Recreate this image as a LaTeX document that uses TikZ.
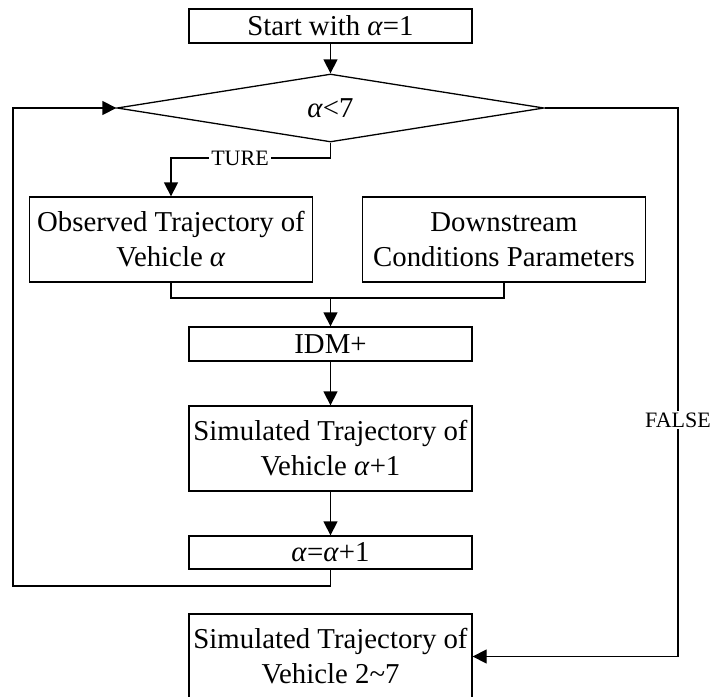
\documentclass[tikz,border=0pt]{standalone}
\usepackage{fontspec}
\setmainfont{Liberation Serif}
\usetikzlibrary{shapes.geometric,arrows.meta}
\tikzset{
  x=0.5pt, y=-0.5pt,
  box/.style={draw, line width=0.65pt, minimum width=141.5pt, inner sep=0pt, align=center,
    font=\fontsize{14.4}{17.5}\selectfont},
  decbox/.style={draw, diamond, line width=0.65pt, minimum width=213.5pt, minimum height=34pt,
    inner sep=0pt, font=\fontsize{14.4}{17.5}\selectfont},
  lbl/.style={fill=white, inner sep=1pt, font=\fontsize{11}{13}\selectfont},
  conn/.style={line width=0.65pt},
  arr/.style={conn, -{Triangle[length=7pt, width=7pt]}},
}
\begin{document}
\begin{tikzpicture}
\useasboundingbox (0,0) rectangle (714,697);
\node[box, minimum height=17pt] (start) at (330.5,26) {Start with \textit{α}=1};
\node[decbox] (dec) at (330.5,108) {\textit{α}<7};
\node[box, minimum height=42.5pt] (obs) at (171,239.5) {Observed Trajectory of\\Vehicle \textit{α}};
\node[box, minimum height=42.5pt] (ds) at (504,239.5) {Downstream\\Conditions Parameters};
\node[box, minimum height=17pt] (idm) at (330.5,344) {IDM+};
\node[box, minimum height=42.5pt] (sim) at (330.5,448.5) {Simulated Trajectory of\\Vehicle \textit{α}+1};
\node[box, minimum height=16.5pt] (inc) at (330.5,552.5) {\textit{α}=\textit{α}+1};
\node[box, minimum height=42.5pt] (final) at (330.5,656.5) {Simulated Trajectory of\\Vehicle 2\textasciitilde 7};

\coordinate (tj) at (330.5,158);
\coordinate (mj) at (330.5,298);
\coordinate (lp) at (13,586);
\coordinate (lt) at (13,108);
\coordinate (rt) at (678,108);
\coordinate (rb) at (678,656.5);

\draw[arr] (start) -- (dec.north);
\draw[arr] (dec.south) -- (tj) -| (obs.north);
\node[lbl] (ture) at (240,158) {TURE};
\draw[conn] (obs.south) |- (mj);
\draw[conn] (ds.south) |- (mj);
\draw[arr] (mj) -- (idm.north);
\draw[arr] (idm) -- (sim);
\draw[arr] (sim) -- (inc);
\draw[arr] (inc.south) -- (inc.south |- lp) -- (lp) -- (lt) -- (dec.west);
\draw[arr] (dec.east) -- (rt) -- (rb) -- (final.east);
\node[lbl] (false) at (678,420) {FALSE};
\end{tikzpicture}
\end{document}
